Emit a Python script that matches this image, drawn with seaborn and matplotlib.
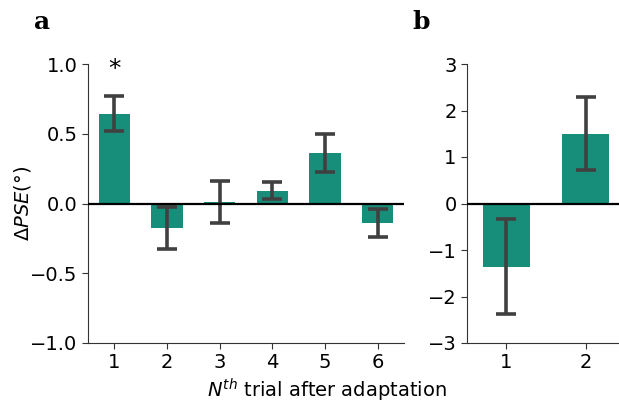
import pandas as pd
import matplotlib.pyplot as plt
import numpy as np
import seaborn as sns

# panel a: change in PSE for the Nth trial after adaptation
trials_a = ['1', '2', '3', '4', '5', '6']
pse_a = [0.642, -0.179, 0.01, 0.089, 0.361, -0.143]
err_lo_a = [0.52, -0.326, -0.143, 0.031, 0.229, -0.24]
err_hi_a = [0.769, -0.026, 0.16, 0.155, 0.499, -0.038]

# panel b
trials_b = ['1', '2']
pse_b = [-1.37, 1.49]
err_lo_b = [-2.37, 0.71]
err_hi_b = [-0.34, 2.29]

bar_color = '#178e79'
err_color = '#404040'

sns.set_style('ticks', {'axes.edgecolor': '#333333', 'text.color': 'black',
                        'xtick.color': '#333333', 'ytick.color': '#333333',
                        'axes.labelcolor': 'black'})
plt.rcParams['font.family'] = ['DejaVu Sans']

fig = plt.figure(figsize=(6.19, 4.03), dpi=100)
W, H = 619, 403
ax_a = fig.add_axes([88 / W, 1 - 343 / H, (404 - 88) / W, (343 - 64) / H])
ax_b = fig.add_axes([467 / W, 1 - 343 / H, (625 - 467) / W, (343 - 64) / H])


def draw_panel(ax, cats, vals, lo, hi, ylim, yticks):
    df = pd.DataFrame({'trial': cats, 'pse': vals})
    sns.barplot(data=df, x='trial', y='pse', color=bar_color, saturation=1,
                width=0.6, errorbar=None, linewidth=0, ax=ax, zorder=2)
    vals = np.array(vals)
    yerr = np.array([vals - np.array(lo), np.array(hi) - vals])
    ax.errorbar(np.arange(len(cats)), vals, yerr=yerr, fmt='none',
                ecolor=err_color, elinewidth=2.6, capsize=7, capthick=2.6, zorder=3)
    ax.axhline(0, color='black', lw=1.6, zorder=4)
    ax.set_xlim(-0.5, len(cats) - 0.5)
    ax.set_ylim(*ylim)
    ax.set_yticks(yticks)
    ax.set_xlabel('')
    ax.set_ylabel('')
    ax.tick_params(labelsize=14, length=4, labelcolor='black')
    sns.despine(ax=ax)


draw_panel(ax_a, trials_a, pse_a, err_lo_a, err_hi_a, (-1, 1), [-1.0, -0.5, 0.0, 0.5, 1.0])
ax_a.set_yticklabels(['\u22121.0', '\u22120.5', '0.0', '0.5', '1.0'])
draw_panel(ax_b, trials_b, pse_b, err_lo_b, err_hi_b, (-3, 3), [-3, -2, -1, 0, 1, 2, 3])
ax_b.set_yticklabels(['\u22123', '\u22122', '\u22121', '0', '1', '2', '3'])

ax_a.set_ylabel(r'$\Delta PSE(°)$', fontsize=14)
ax_a.yaxis.set_label_coords(-0.175, 0.5)
ax_a.text(0, 0.965, '*', ha='center', va='center', fontsize=18)

fig.text(327 / W, 1 - 390 / H, r'$N^{th}$ trial after adaptation', ha='center', va='center', fontsize=14)
fig.text(42 / W, 1 - 22 / H, 'a', family='DejaVu Serif', weight='bold', fontsize=18, ha='center', va='center')
fig.text(421 / W, 1 - 22 / H, 'b', family='DejaVu Serif', weight='bold', fontsize=18, ha='center', va='center')

plt.savefig('out.png', dpi=100)
